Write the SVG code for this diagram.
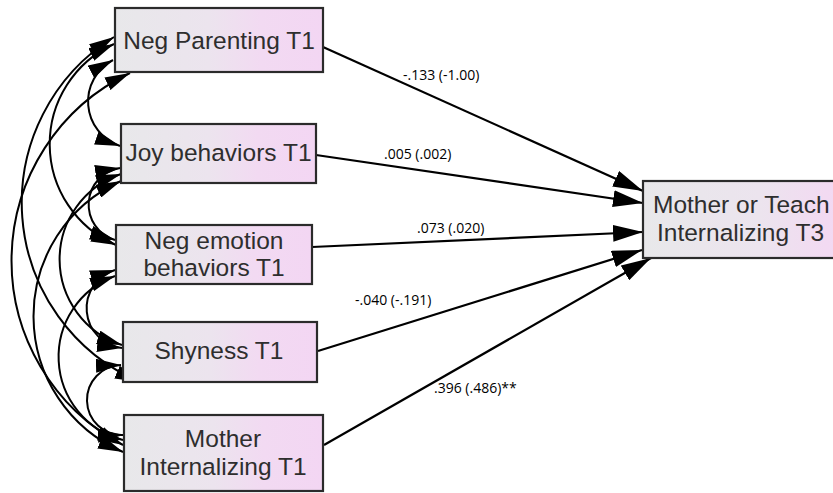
<svg xmlns="http://www.w3.org/2000/svg" width="833" height="493" viewBox="0 0 833 493">
  <defs>
    <linearGradient id="boxFill" x1="0" y1="0" x2="1" y2="0">
      <stop offset="0" stop-color="#e8e8ea"/>
      <stop offset="0.45" stop-color="#ece4ee"/>
      <stop offset="0.7" stop-color="#f2daf2"/>
      <stop offset="1" stop-color="#f3d6f3"/>
    </linearGradient>
    <marker id="arrowPath" markerUnits="userSpaceOnUse" markerWidth="30" markerHeight="17" refX="30" refY="8.5" orient="auto">
      <path d="M0,0 L30,8.5 L0,17 z" fill="#000"/>
    </marker>
    <marker id="arrowCov" markerUnits="userSpaceOnUse" markerWidth="25" markerHeight="14" refX="25" refY="7" orient="auto-start-reverse">
      <path d="M0,0 L25,7 L0,14 z" fill="#000"/>
    </marker>
    <style>
      .box { fill: url(#boxFill); stroke: #2b2b2b; stroke-width: 2.2; }
      .name { font-family: "Liberation Sans", Arial, sans-serif; font-size: 24.5px; fill: #2e2e2e; text-anchor: middle; }
      .coef { font-family: "Open Sans", "Liberation Sans", sans-serif; font-size: 14px; fill: #000; }
      .path { fill: none; stroke: #000; stroke-width: 2.2; marker-end: url(#arrowPath); }
      .cov { fill: none; stroke: #000; stroke-width: 2; marker-start: url(#arrowCov); marker-end: url(#arrowCov); }
    </style>
  </defs>

  <rect width="833" height="493" fill="#ffffff"/>

  <!-- connectors: regression paths and covariances -->
  <g id="connectors">
    <path class="path" d="M323,47 L643,191"/>
    <path class="path" d="M316,155 L643,203"/>
    <path class="path" d="M312,247 L643,232"/>
    <path class="path" d="M318,351 L642,250"/>
    <path class="path" d="M324,445 L651,258"/>

    <path class="cov" d="M113,60 A47,47 0 0 0 120,146"/>
    <path class="cov" d="M114,44 A110,110 0 0 0 116,245"/>
    <path class="cov" d="M114,37 A195,195 0 0 0 140,382"/>
    <path class="cov" d="M130,73 A208,208 0 0 0 123,445"/>
    <path class="cov" d="M120,168 A37,37 0 0 0 115,240"/>
    <path class="cov" d="M121,174 A90,90 0 0 0 122,345"/>
    <path class="cov" d="M121,181 A148,148 0 0 0 123,452"/>
    <path class="cov" d="M115,270 A40,40 0 0 0 122,348"/>
    <path class="cov" d="M115,276 A86,86 0 0 0 123,440"/>
    <path class="cov" d="M121,365 A35,35 0 0 0 123,435"/>

    <text class="coef" x="403" y="80">-.133 (-1.00)</text>
    <text class="coef" x="384" y="159">.005 (.002)</text>
    <text class="coef" x="417" y="233">.073 (.020)</text>
    <text class="coef" x="355" y="305">-.040 (-.191)</text>
    <text class="coef" x="434" y="393">.396 (.486)**</text>
  </g>

  <g id="neg-parenting">
    <rect class="box" x="115" y="8" width="208" height="64"/>
    <text class="name" x="219" y="49">Neg Parenting T1</text>
  </g>

  <g id="joy-behaviors">
    <rect class="box" x="121" y="124" width="195" height="59"/>
    <text class="name" x="218.5" y="161">Joy behaviors T1</text>
  </g>

  <g id="neg-emotion">
    <rect class="box" x="116" y="225" width="196" height="59"/>
    <text class="name" x="214" y="249">Neg emotion</text>
    <text class="name" x="214" y="276">behaviors T1</text>
  </g>

  <g id="shyness">
    <rect class="box" x="123" y="322" width="194" height="60"/>
    <text class="name" x="219" y="359">Shyness T1</text>
  </g>

  <g id="mother-internalizing-t1">
    <rect class="box" x="124" y="415" width="199" height="76"/>
    <text class="name" x="223" y="447">Mother</text>
    <text class="name" x="223" y="475">Internalizing T1</text>
  </g>

  <g id="internalizing-t3">
    <rect class="box" x="643" y="181" width="260" height="77"/>
    <text class="name" x="653" y="213" style="text-anchor:start">Mother or Teach</text>
    <text class="name" x="657" y="241" style="text-anchor:start">Internalizing T3</text>
  </g>
</svg>
